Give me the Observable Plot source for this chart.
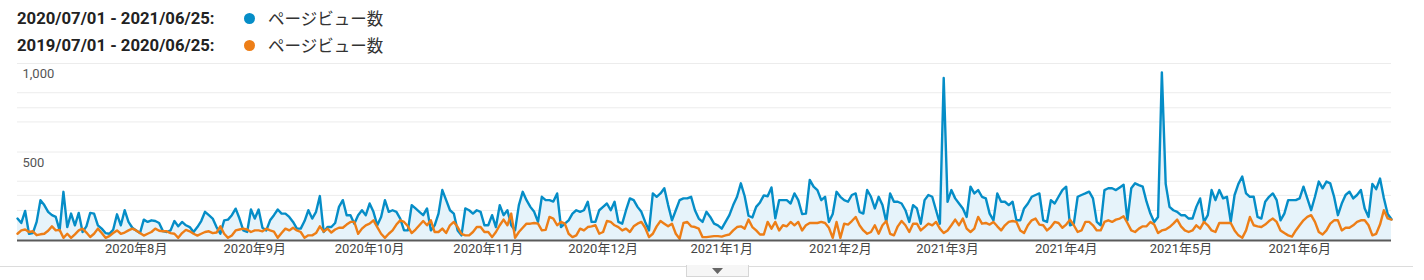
<!DOCTYPE html>
<html>
<head>
<meta charset="utf-8">
<script src="https://cdn.jsdelivr.net/npm/d3@7"></script>
<script src="https://cdn.jsdelivr.net/npm/@observablehq/plot@0.6"></script>
<style>
  html, body { margin: 0; padding: 0; background: #fff; }
  body { width: 1424px; height: 280px; position: relative; overflow: hidden; font-family: Roboto, "Noto Sans CJK JP", sans-serif; }
  .row { position: absolute; left: 17px; height: 20px; display: flex; align-items: center; }
  .period { font-weight: bold; font-size: 16.7px; color: #222; width: 227px; white-space: nowrap; }
  .dot { width: 11px; height: 11px; border-radius: 50%; margin-right: 13px; }
  .name { font-family: "Noto Sans CJK JP", sans-serif; font-size: 16.5px; color: #333; }
  #chart { position: absolute; left: 0; top: 50px; }
  #foot { position: absolute; left: 0; top: 266px; width: 1413px; height: 1px; background: #dcdcdc; }
  #btn { position: absolute; left: 686px; top: 265px; width: 61px; height: 11px; background: #f6f6f6; border: 1px solid #d6d6d6; border-top: none; }
  #btn svg { position: absolute; left: 25px; top: 3px; }
</style>
</head>
<body>
<div class="row" style="top:8px"><span class="period" id="p1"></span><span class="dot" style="background:#058dc7"></span><span class="name" id="n1"></span></div>
<div class="row" style="top:35px"><span class="period" id="p2"></span><span class="dot" style="background:#ed7e17"></span><span class="name" id="n2"></span></div>
<div id="chart"></div>
<div id="foot"></div>
<div id="btn"><svg width="11" height="6"><path d="M0,0 L11,0 L5.5,6 Z" fill="#666"/></svg></div>
<script>
// ---- data ----
const periodLabels = ["2020/07/01 - 2021/06/25:", "2019/07/01 - 2020/06/25:"];
const seriesName = "ページビュー数";
const startDate = "2020-07-01";
const endDate = "2021-06-25";
const monthStarts = ["2020-08-01","2020-09-01","2020-10-01","2020-11-01","2020-12-01","2021-01-01","2021-02-01","2021-03-01","2021-04-01","2021-05-01","2021-06-01"];
const monthLabels = ["2020年8月","2020年9月","2020年10月","2020年11月","2020年12月","2021年1月","2021年2月","2021年3月","2021年4月","2021年5月","2021年6月"];
const yTicks = [1000, 500];
const gridValues = [1000, 835, 750, 670, 500, 335, 255, 170];

const currentViews = [
124, 99, 167, 38, 42, 105, 228, 200, 162, 143,
133, 57, 275, 76, 152, 86, 156, 48, 80, 156,
152, 86, 67, 42, 38, 61, 148, 86, 171, 105,
72, 57, 42, 118, 105, 114, 110, 99, 53, 48,
57, 110, 80, 105, 86, 76, 48, 76, 110, 162,
143, 124, 76, 38, 114, 118, 143, 180, 124, 57,
48, 175, 124, 175, 72, 57, 114, 143, 175, 152,
152, 133, 105, 67, 67, 110, 171, 124, 162, 251,
48, 76, 76, 99, 190, 228, 143, 143, 95, 143,
171, 143, 209, 162, 86, 133, 228, 162, 171, 162,
124, 57, 57, 200, 181, 162, 143, 181, 57, 86,
152, 285, 228, 171, 152, 57, 29, 181, 171, 152,
171, 162, 86, 86, 143, 76, 200, 143, 171, 86,
57, 200, 275, 228, 190, 162, 105, 247, 228, 228,
220, 266, 76, 95, 114, 152, 171, 162, 171, 219,
105, 105, 171, 190, 209, 171, 219, 105, 95, 171,
238, 228, 190, 162, 105, 57, 266, 247, 266, 295,
200, 114, 171, 228, 238, 238, 247, 171, 124, 105,
162, 133, 95, 86, 67, 105, 143, 200, 247, 323,
250, 140, 130, 190, 215, 255, 250, 300, 125, 228,
228, 228, 209, 266, 228, 150, 152, 342, 304, 285,
228, 247, 105, 150, 275, 247, 228, 219, 257, 266,
162, 152, 285, 247, 181, 247, 200, 105, 266, 219,
219, 209, 171, 105, 200, 181, 95, 228, 257, 247,
171, 95, 918, 218, 285, 238, 209, 181, 133, 304,
266, 285, 247, 238, 152, 114, 266, 219, 219, 200,
219, 114, 114, 181, 209, 247, 257, 266, 114, 105,
228, 209, 247, 285, 304, 86, 95, 247, 257, 266,
276, 238, 105, 86, 285, 295, 295, 285, 300, 315,
114, 295, 323, 313, 304, 219, 152, 105, 133, 950,
320, 190, 171, 162, 143, 143, 124, 124, 190, 238,
105, 143, 285, 228, 285, 238, 247, 105, 257, 320,
361, 266, 247, 247, 133, 124, 219, 247, 266, 228,
114, 152, 228, 228, 228, 238, 304, 238, 171, 247,
333, 295, 333, 323, 247, 143, 209, 257, 276, 238,
257, 285, 181, 133, 320, 290, 350, 240, 150, 120
];

const previousViews = [
38, 57, 62, 48, 52, 30, 35, 38, 55, 80,
57, 60, 15, 38, 15, 35, 57, 67, 45, 20,
38, 67, 42, 15, 25, 42, 57, 38, 45, 57,
67, 57, 42, 28, 38, 48, 67, 55, 52, 52,
42, 38, 15, 42, 60, 52, 38, 28, 38, 48,
52, 42, 45, 80, 38, 15, 28, 57, 62, 67,
62, 48, 57, 57, 52, 67, 57, 50, 15, 42,
67, 57, 72, 57, 48, 15, 29, 29, 42, 80,
50, 67, 45, 62, 72, 72, 90, 105, 105, 38,
67, 86, 95, 114, 76, 38, 15, 38, 57, 90,
114, 105, 80, 42, 62, 86, 110, 86, 114, 48,
48, 67, 42, 86, 105, 76, 38, 29, 29, 48,
76, 76, 48, 48, 19, 48, 86, 118, 86, 152,
15, 48, 72, 95, 95, 99, 95, 57, 60, 133,
124, 86, 105, 95, 38, 19, 29, 67, 57, 76,
80, 86, 38, 48, 110, 105, 86, 76, 57, 67,
48, 80, 95, 105, 72, 19, 38, 80, 110, 95,
80, 95, 38, 10, 99, 105, 80, 76, 67, 19,
19, 22, 25, 25, 22, 29, 34, 57, 76, 80,
67, 118, 76, 57, 34, 34, 105, 67, 105, 57,
86, 80, 105, 86, 105, 57, 86, 99, 99, 99,
105, 99, 72, 15, 105, 15, 95, 90, 110, 133,
86, 57, 38, 48, 86, 38, 86, 110, 38, 29,
80, 110, 86, 48, 95, 95, 57, 76, 95, 86,
105, 67, 42, 57, 86, 118, 86, 124, 67, 48,
67, 133, 95, 99, 90, 105, 80, 57, 86, 105,
110, 105, 57, 42, 86, 114, 124, 90, 86, 57,
76, 105, 99, 72, 90, 118, 86, 48, 57, 105,
105, 86, 57, 57, 105, 114, 105, 118, 124, 137,
99, 57, 48, 67, 80, 80, 105, 90, 42, 57,
62, 76, 95, 118, 80, 57, 48, 57, 86, 67,
105, 86, 57, 48, 99, 99, 99, 99, 57, 29,
15, 57, 133, 86, 80, 76, 90, 110, 124, 105,
57, 42, 29, 22, 57, 86, 114, 133, 143, 105,
48, 34, 57, 95, 114, 114, 57, 72, 72, 86,
105, 114, 114, 86, 29, 38, 90, 171, 125, 118
];

// ---- legend ----
document.getElementById("p1").textContent = periodLabels[0];
document.getElementById("p2").textContent = periodLabels[1];
document.getElementById("n1").textContent = seriesName;
document.getElementById("n2").textContent = seriesName;

// ---- chart ----
const dates = d3.utcDay.range(new Date(startDate), d3.utcDay.offset(new Date(endDate), 1));
const data = dates.map((d, i) => ({date: d, cur: currentViews[i], prev: previousViews[i]}));
const monthTicks = monthStarts.map((s, i) => ({date: new Date(s), label: monthLabels[i]}));

const chart = Plot.plot({
  width: 1424,
  height: 215,
  marginLeft: 17,
  marginRight: 33,
  marginTop: 13,
  marginBottom: 25,
  x: {type: "utc", domain: [dates[0], dates[dates.length - 1]], axis: null},
  y: {domain: [0, 1000], axis: null},
  style: {fontFamily: "Roboto, 'Noto Sans CJK JP', sans-serif", background: "transparent", overflow: "visible"},
  marks: [
    Plot.ruleY(gridValues, {stroke: "#ececec", strokeWidth: 1}),
    Plot.areaY(data, {x: "date", y: "cur", fill: "#e6f3fa"}),
    Plot.lineY(data, {x: "date", y: "cur", stroke: "#058dc7", strokeWidth: 2.4}),
    Plot.lineY(data, {x: "date", y: "prev", stroke: "#ed7e17", strokeWidth: 2.4}),
    Plot.ruleY([0], {stroke: "#5a5a5a", strokeWidth: 2}),
    Plot.text(yTicks, {x: () => dates[0], y: d => d, text: d => d3.format(",")(d), dx: 5, dy: 10.5, textAnchor: "start", fill: "#555", fontSize: 13}),
    Plot.text(monthTicks, {x: "date", text: "label", frameAnchor: "bottom", dy: 12, fill: "#444", fontSize: 13})
  ]
});
document.getElementById("chart").appendChild(chart);
</script>
</body>
</html>
